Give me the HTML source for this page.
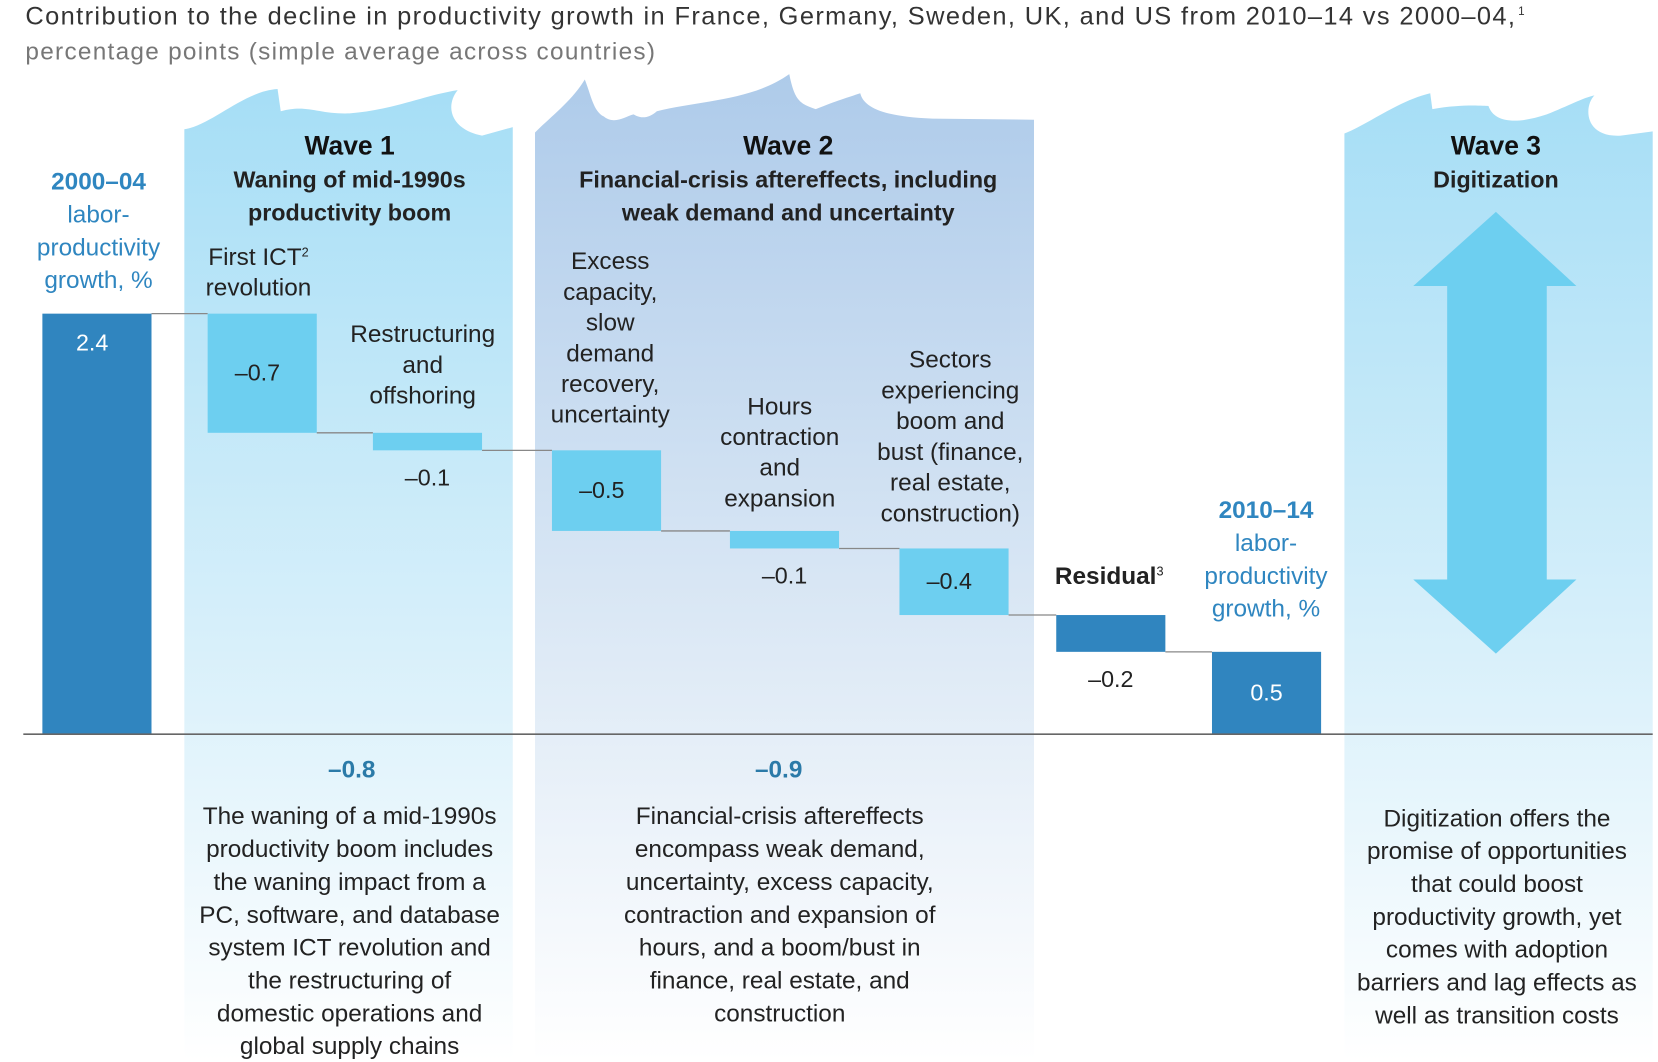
<!DOCTYPE html>
<html><head><meta charset="utf-8"><style>
html,body{margin:0;padding:0;background:#fff;}
svg{display:block;font-family:"Liberation Sans",Arial,sans-serif;}
</style></head><body>
<svg width="1658" height="1062" viewBox="0 0 1565 1002.4">
<defs>
<linearGradient id="g1" x1="0" y1="0" x2="0" y2="1"><stop offset="0" stop-color="#a6def6"/><stop offset="0.55" stop-color="#d6effa"/><stop offset="1" stop-color="#ffffff"/></linearGradient>
<linearGradient id="g2" x1="0" y1="0" x2="0" y2="1"><stop offset="0" stop-color="#aecbea"/><stop offset="0.55" stop-color="#dbe8f5"/><stop offset="1" stop-color="#ffffff"/></linearGradient>
<linearGradient id="g3" x1="0" y1="0" x2="0" y2="1"><stop offset="0" stop-color="#a6def6"/><stop offset="0.55" stop-color="#d6effa"/><stop offset="1" stop-color="#ffffff"/></linearGradient>
</defs>
<text x="24" y="23" font-size="24" fill="#333" textLength="1406" lengthAdjust="spacing">Contribution to the decline in productivity growth in France, Germany, Sweden, UK, and US from 2010–14 vs 2000–04,</text>
<text x="1433" y="14" font-size="11" fill="#333">1</text>
<text x="24" y="56" font-size="23" letter-spacing="1.2" fill="#777">percentage points (simple average across countries)</text>

<path fill="url(#g1)" d="M174,122 C200,118 230,86 262,84 L265,105 C290,98 300,108 330,107 C370,104 400,90 432,85 C420,100 425,122 455,128 L484,120 L484,1002 L174,1002 Z"/>
<path fill="url(#g2)" d="M505,125 C520,110 540,95 552,75 C558,90 560,105 570,110 C580,118 590,110 598,108 C605,112 612,112 620,105 C660,95 710,95 745,70 C750,95 755,98 770,103 C790,95 800,92 812,88 C815,100 830,110 880,112 L976,113 L976,1002 L505,1002 Z"/>
<path fill="url(#g3)" d="M1269,126 C1290,118 1320,95 1350,88 L1352,103 C1380,98 1400,100 1405,100 C1410,115 1430,118 1460,108 C1480,100 1495,92 1505,90 C1495,100 1495,130 1530,128 L1560,124 L1560,1002 L1269,1002 Z"/>

<g font-size="22" fill="#111" text-anchor="middle">
<text x="330" y="146" font-weight="bold" font-size="25">Wave 1</text>
<text x="330" y="177" font-weight="bold" fill="#222">Waning of mid-1990s</text>
<text x="330" y="208" font-weight="bold" fill="#222">productivity boom</text>
<text x="744" y="146" font-weight="bold" font-size="25">Wave 2</text>
<text x="744" y="177" font-weight="bold" fill="#222">Financial-crisis aftereffects, including</text>
<text x="744" y="208" font-weight="bold" fill="#222">weak demand and uncertainty</text>
<text x="1412" y="146" font-weight="bold" font-size="25">Wave 3</text>
<text x="1412" y="177" font-weight="bold" fill="#222">Digitization</text>
</g>

<g font-size="23" fill="#2f86c0" text-anchor="middle">
<text x="93" y="179" font-weight="bold">2000–04</text>
<text x="93" y="210">labor-</text>
<text x="93" y="241">productivity</text>
<text x="93" y="272">growth, %</text>
</g>
<g font-size="23" fill="#2f86c0" text-anchor="middle">
<text x="1195" y="489" font-weight="bold">2010–14</text>
<text x="1195" y="520">labor-</text>
<text x="1195" y="551">productivity</text>
<text x="1195" y="582">growth, %</text>
</g>

<g font-size="23" fill="#222" text-anchor="middle">
<g><text x="244" y="250">First ICT<tspan font-size="12" dy="-8">2</tspan></text><text x="244" y="279">revolution</text></g>
<g><text x="399" y="323">Restructuring</text><text x="399" y="352">and</text><text x="399" y="381">offshoring</text></g>
<g><text x="576" y="254">Excess</text><text x="576" y="283">capacity,</text><text x="576" y="312">slow</text><text x="576" y="341">demand</text><text x="576" y="370">recovery,</text><text x="576" y="399">uncertainty</text></g>
<g><text x="736" y="391">Hours</text><text x="736" y="420">contraction</text><text x="736" y="449">and</text><text x="736" y="478">expansion</text></g>
<g><text x="897" y="347">Sectors</text><text x="897" y="376">experiencing</text><text x="897" y="405">boom and</text><text x="897" y="434">bust (finance,</text><text x="897" y="463">real estate,</text><text x="897" y="492">construction)</text></g>
<text x="1047" y="551" font-weight="bold">Residual<tspan font-size="12" dy="-8" font-weight="normal">3</tspan></text>
</g>

<path fill="#6dcff0" d="M1412,200 L1488,270 L1460,270 L1460,547 L1488,547 L1412,617 L1334,547 L1366,547 L1366,270 L1334,270 Z"/>

<g id="bars"></g>
<line x1="22" y1="693" x2="1560" y2="693" stroke="#666" stroke-width="1.5"/>

<g font-size="23" text-anchor="middle">
<text x="332" y="734" fill="#2b7aa8" font-weight="bold">–0.8</text>
<text x="735" y="734" fill="#2b7aa8" font-weight="bold">–0.9</text>
<g fill="#222">
<text x="330" y="778">The waning of a mid-1990s</text><text x="330" y="809">productivity boom includes</text><text x="330" y="840">the waning impact from a</text><text x="330" y="871">PC, software, and database</text><text x="330" y="902">system ICT revolution and</text><text x="330" y="933">the restructuring of</text><text x="330" y="964">domestic operations and</text><text x="330" y="995">global supply chains</text>
</g>
<g fill="#222">
<text x="736" y="778">Financial-crisis aftereffects</text><text x="736" y="809">encompass weak demand,</text><text x="736" y="840">uncertainty, excess capacity,</text><text x="736" y="871">contraction and expansion of</text><text x="736" y="902">hours, and a boom/bust in</text><text x="736" y="933">finance, real estate, and</text><text x="736" y="964">construction</text>
</g>
<g fill="#222">
<text x="1413" y="780">Digitization offers the</text><text x="1413" y="811">promise of opportunities</text><text x="1413" y="842">that could boost</text><text x="1413" y="873">productivity growth, yet</text><text x="1413" y="904">comes with adoption</text><text x="1413" y="935">barriers and lag effects as</text><text x="1413" y="966">well as transition costs</text>
</g>
</g>

<script>
const categories = ["2000-04", "First ICT revolution", "Restructuring and offshoring", "Excess capacity", "Hours", "Sectors boom/bust", "Residual", "2010-14"];
const values = [2.4, -0.68, -0.10, -0.46, -0.10, -0.38, -0.21, 0.47];
const valueLabels = ["2.4", "–0.7", "–0.1", "–0.5", "–0.1", "–0.4", "–0.2", "0.5"];
const kinds = ["total", "light", "light", "light", "light", "light", "dark", "total"];

const NS = "http://www.w3.org/2000/svg";
const baseY = 693, unit = 165.4;
const barX = [40, 196, 352, 521, 689, 849, 997, 1144];
const barW = 103;
function yScale(v) { return baseY - v * unit; }
const g = document.getElementById("bars");
let running = 0, prevTop = null, prevRight = null;
values.forEach((v, i) => {
  let top, bot;
  if (kinds[i] === "total") {
    top = yScale(v); bot = yScale(0); running = v;
  } else {
    top = yScale(running); bot = yScale(running + v); running += v;
  }
  const x = barX[i];
  if (prevTop !== null) {
    const ln = document.createElementNS(NS, "line");
    ln.setAttribute("x1", prevRight); ln.setAttribute("x2", x);
    ln.setAttribute("y1", top); ln.setAttribute("y2", top);
    ln.setAttribute("stroke", "#888"); ln.setAttribute("stroke-width", "1.2");
    
    
    g.appendChild(ln);
  }
  const r = document.createElementNS(NS, "rect");
  r.setAttribute("x", x); r.setAttribute("y", top);
  r.setAttribute("width", barW); r.setAttribute("height", Math.max(1, bot - top));
  r.setAttribute("fill", kinds[i] === "light" ? "#6dcff0" : "#3085bf");
  
  
  g.appendChild(r);
  const t = document.createElementNS(NS, "text");
  const h = bot - top;
  let ty, fill;
  if (h > 40) { ty = (top + bot) / 2 + 7; fill = kinds[i] === "light" ? "#222" : "#fff"; }
  else { ty = bot + 33; fill = "#222"; }
  if (i === 0) ty = top + 35;
  t.setAttribute("x", i === 0 ? x + 47 : x + (kinds[i] === "light" && h > 40 ? 47 : barW / 2));
  t.setAttribute("y", ty);
  t.setAttribute("font-size", "22");
  t.setAttribute("text-anchor", "middle");
  t.setAttribute("fill", fill);
  t.textContent = valueLabels[i];
  
  
  g.appendChild(t);
  prevTop = kinds[i] === "total" ? top : bot;
  prevRight = x + barW;
});
</script>
</svg>
</body></html>
